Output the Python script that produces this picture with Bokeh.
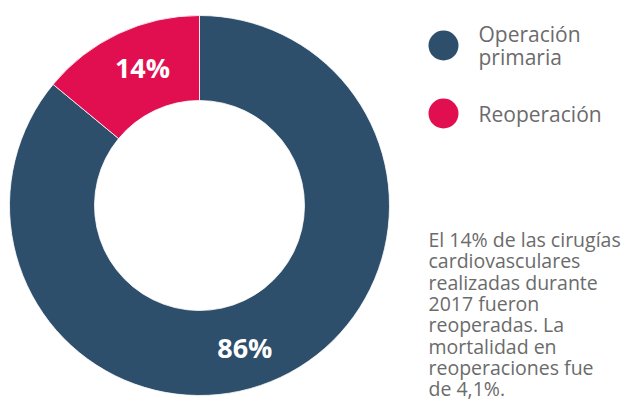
import math
from bokeh.plotting import figure
from bokeh.models import Range1d, ColumnDataSource
from bokeh.core.properties import value
from bokeh.embed import file_html
from bokeh.resources import INLINE

# ---- data ----
categories = ["Operación primaria", "Reoperación"]
values = [86, 14]
pct_labels = ["86%", "14%"]
legend_lines = [["Operación", "primaria"], ["Reoperación"]]
note_lines = [
    "El 14% de las cirugías",
    "cardiovasculares",
    "realizadas durante",
    "2017 fueron",
    "reoperadas. La",
    "mortalidad en",
    "reoperaciones fue",
    "de 4,1%.",
]

# ---- style ----
colors = ["#2d4f6b", "#e10f4f"]
text_gray = "#6b6b6b"
font = "Open Sans"
W, H = 621, 402


def Y(py):
    # pixel row (from top) -> data y
    return H - py


cx, cy = 199, Y(205)
r_in, r_out = 105, 190
label_r = 149
label_angle_shift = [-7.5, -2.7]  # degrees, visual tweak

p = figure(width=W, height=H, output_backend="svg", toolbar_location=None,
           x_range=Range1d(0, W), y_range=Range1d(0, H),
           min_border=0, tools="")
p.axis.visible = False
p.grid.visible = False
p.outline_line_color = None
p.background_fill_color = "white"
p.border_fill_color = "white"

total = sum(values)
starts, ends, mids = [], [], []
acc = 0.0
for v in values:
    a0 = math.pi / 2 - 2 * math.pi * acc / total
    acc += v
    a1 = math.pi / 2 - 2 * math.pi * acc / total
    starts.append(a0)
    ends.append(a1)
    mids.append((a0 + a1) / 2)

src = ColumnDataSource(dict(x=[cx] * len(values), y=[cy] * len(values),
                            start=starts, end=ends, color=colors, cat=categories))
p.annular_wedge(x="x", y="y", inner_radius=r_in, outer_radius=r_out,
                start_angle="start", end_angle="end", direction="clock",
                fill_color="color", line_color="white", line_width=0.8,
                source=src)

# percentage labels
lx = [cx + label_r * math.cos(m + math.radians(s)) for m, s in zip(mids, label_angle_shift)]
ly = [cy + label_r * math.sin(m + math.radians(s)) for m, s in zip(mids, label_angle_shift)]
p.text(x=lx, y=ly, text=pct_labels, text_color="white", text_font=value(font),
       text_font_style="bold", text_font_size="27px", text_align="center",
       text_baseline="middle")

# legend
leg_x, leg_y0, leg_gap, leg_r = 443, Y(45), 68, 15
line_h = 23
for i, (c, lines) in enumerate(zip(colors, legend_lines)):
    yc = leg_y0 - i * leg_gap
    p.circle(x=[leg_x], y=[yc], radius=leg_r, fill_color=c, line_color=None)
    n = len(lines)
    ys = [yc + (n - 1) * line_h / 2 - k * line_h for k in range(n)]
    p.text(x=[leg_x + 35] * n, y=ys, text=lines, text_color=text_gray,
           text_font=value(font), text_font_size="21px", text_align="left",
           text_baseline="middle")

# note paragraph
nx, ny0, nh = 428, Y(239), 21.3
p.text(x=[nx] * len(note_lines), y=[ny0 - k * nh for k in range(len(note_lines))],
       text=note_lines, text_color=text_gray, text_font=value(font),
       text_font_size="19.5px", text_align="left", text_baseline="middle")

open("out.html", "w").write(file_html(p, INLINE))
